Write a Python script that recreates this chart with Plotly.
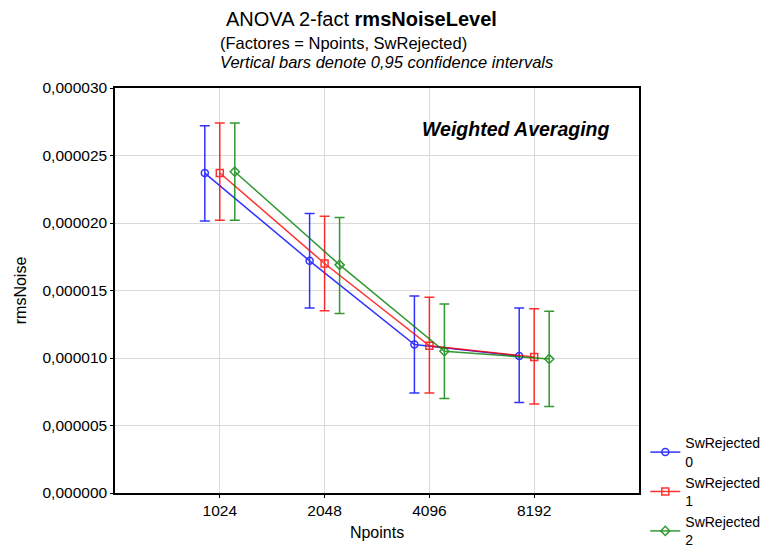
import plotly.graph_objects as go

categories = ["1024", "2048", "4096", "8192"]
series_names = ["SwRejected<br>0", "SwRejected<br>1", "SwRejected<br>2"]
means = [
    [23.7e-6, 17.2e-6, 11.0e-6, 10.15e-6],
    [23.7e-6, 17.0e-6, 10.9e-6, 10.07e-6],
    [23.8e-6, 16.9e-6, 10.5e-6, 9.93e-6],
]
upper = [
    [27.2e-6, 20.7e-6, 14.6e-6, 13.7e-6],
    [27.4e-6, 20.5e-6, 14.5e-6, 13.65e-6],
    [27.4e-6, 20.4e-6, 14.0e-6, 13.46e-6],
]
lower = [
    [20.15e-6, 13.7e-6, 7.4e-6, 6.7e-6],
    [20.2e-6, 13.5e-6, 7.4e-6, 6.6e-6],
    [20.2e-6, 13.3e-6, 7.0e-6, 6.4e-6],
]
colors = ["#0000ff", "#ff0000", "#008000"]
symbols = ["circle-open", "square-open", "diamond-open"]
msizes = [7, 7, 7]
offsets = [-0.143, 0.0, 0.143]

y_tick_vals = [0, 5e-6, 10e-6, 15e-6, 20e-6, 25e-6, 30e-6]
y_tick_text = ["0,000000", "0,000005", "0,000010", "0,000015", "0,000020", "0,000025", "0,000030"]

fig = go.Figure()
for i in range(3):
    xs = [j + offsets[i] for j in range(len(categories))]
    fig.add_trace(go.Scatter(
        x=xs, y=means[i], name=series_names[i], mode="lines+markers",
        line=dict(color=colors[i], width=1.5),
        marker=dict(symbol=symbols[i], size=msizes[i], color=colors[i], line=dict(width=1.5)),
        error_y=dict(type="data", symmetric=False,
                     array=[u - m for u, m in zip(upper[i], means[i])],
                     arrayminus=[m - l for m, l in zip(means[i], lower[i])],
                     color=colors[i], thickness=1.5, width=5),
        opacity=0.8,
    ))

fig.update_layout(
    width=766, height=541,
    margin=dict(l=107, r=135, t=80, b=56, autoexpand=False),
    paper_bgcolor="white", plot_bgcolor="white",
    font=dict(family="Liberation Sans, Arial, sans-serif", size=15, color="black"),
    showlegend=True,
    legend=dict(x=1.012, y=0.162, xanchor="left", yanchor="top",
                font=dict(size=14), bgcolor="rgba(0,0,0,0)",
                tracegroupgap=0, itemwidth=30),
    xaxis=dict(range=[-1, 4], tickmode="array", tickvals=[0, 1, 2, 3], ticktext=categories,
               showgrid=True, gridcolor="#d9d9d9", gridwidth=1,
               showline=True, linecolor="black", linewidth=1.5, mirror=True,
               ticks="outside", ticklen=3, tickcolor="black", zeroline=False,
               tickfont=dict(size=15.5), automargin=False,
               title=dict(text="Npoints", font=dict(size=16), standoff=8)),
    yaxis=dict(range=[0, 30e-6], tickmode="array", tickvals=y_tick_vals, ticktext=y_tick_text,
               showgrid=True, gridcolor="#d9d9d9", gridwidth=1,
               showline=True, linecolor="black", linewidth=1.5, mirror=True,
               ticks="outside", ticklen=3, tickcolor="black", zeroline=False,
               tickfont=dict(size=15.5), automargin=False,
               title=dict(text="rmsNoise", font=dict(size=16), standoff=12)),
)

fig.add_annotation(text="ANOVA 2-fact <b>rmsNoiseLevel</b>", xref="paper", yref="paper",
                   x=(224 - 115) / 524, y=1 + (88 - 19) / 405, xanchor="left", yanchor="middle",
                   showarrow=False, font=dict(size=20))
fig.add_annotation(text="(Factores = Npoints, SwRejected)", xref="paper", yref="paper",
                   x=(218 - 115) / 524, y=1 + (88 - 43) / 405, xanchor="left", yanchor="middle",
                   showarrow=False, font=dict(size=16.5))
fig.add_annotation(text="<i>Vertical bars denote 0,95 confidence intervals</i>", xref="paper", yref="paper",
                   x=(218 - 115) / 524, y=1 + (88 - 62) / 405, xanchor="left", yanchor="middle",
                   showarrow=False, font=dict(size=16.5))
fig.add_annotation(text="<b><i>Weighted Averaging</i></b>", xref="paper", yref="paper",
                   x=(612 - 115) / 524, y=(493 - 129) / 405, xanchor="right", yanchor="middle",
                   showarrow=False, font=dict(size=19.5))

fig.write_html("out.html")
